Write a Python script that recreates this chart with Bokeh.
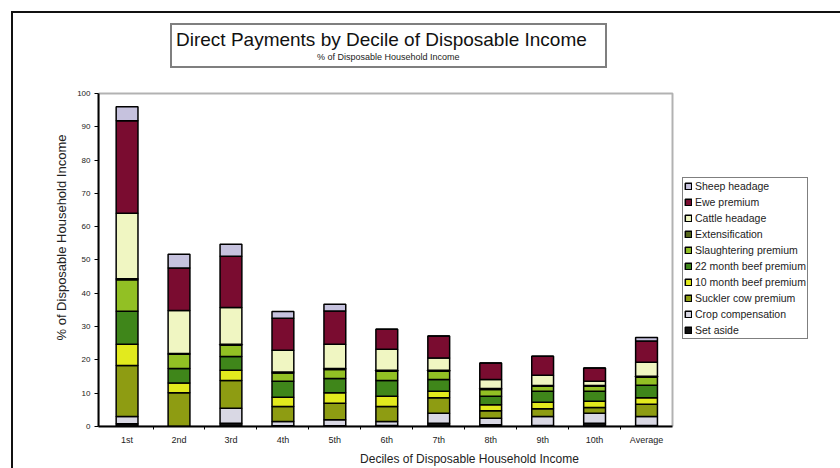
from bokeh.plotting import figure
from bokeh.layouts import column
from bokeh.models import (Range1d, FixedTicker, Legend, LegendItem, Title,
                          BoxAnnotation, ColumnDataSource)
from bokeh.embed import file_html
from bokeh.resources import INLINE

categories = ["1st", "2nd", "3rd", "4th", "5th", "6th", "7th", "8th", "9th", "10th", "Average"]

# series values, % of disposable household income (bottom of stack first)
set_aside            = [0.8, 0.0, 1.0, 0.2, 0.2, 0.3, 1.0, 0.5, 0.3, 1.0, 0.3]
crop_compensation    = [2.2, 0.0, 4.5, 1.3, 1.8, 1.2, 3.0, 2.0, 2.7, 3.0, 2.7]
suckler_cow_premium  = [15.3, 10.1, 8.3, 4.5, 5.0, 4.5, 4.6, 2.2, 2.3, 1.7, 3.7]
beef_10_month        = [6.4, 3.0, 3.1, 2.8, 3.1, 3.1, 2.0, 1.8, 2.0, 1.9, 1.9]
beef_22_month        = [9.9, 4.3, 4.1, 4.8, 4.3, 4.7, 3.5, 2.6, 3.3, 3.0, 3.8]
slaughtering_premium = [9.5, 4.3, 3.4, 2.5, 2.7, 2.8, 2.5, 2.0, 1.5, 1.5, 2.4]
extensification      = [0.3, 0.2, 0.3, 0.3, 0.3, 0.3, 0.3, 0.3, 0.2, 0.2, 0.3]
cattle_headage       = [19.6, 12.9, 11.0, 6.5, 7.3, 6.3, 3.7, 2.7, 3.1, 1.3, 4.2]
ewe_premium          = [27.8, 12.8, 15.4, 9.6, 10.0, 6.0, 6.6, 5.0, 5.7, 4.0, 6.4]
sheep_headage        = [4.2, 4.1, 3.6, 2.0, 2.0, 0.0, 0.0, 0.0, 0.0, 0.0, 1.0]

series_names = ["Set aside", "Crop compensation", "Suckler cow premium",
                "10 month beef premium", "22 month beef premium", "Slaughtering premium",
                "Extensification", "Cattle headage", "Ewe premium", "Sheep headage"]
series_values = [set_aside, crop_compensation, suckler_cow_premium, beef_10_month,
                 beef_22_month, slaughtering_premium, extensification, cattle_headage,
                 ewe_premium, sheep_headage]
colors = ["#111111", "#d9d8e4", "#8e9c12", "#e2ea1e", "#3f861a", "#92c024",
          "#56661a", "#f0f6c2", "#7a0c30", "#c6c2de"]

y_ticks = list(range(0, 101, 10))

title_text = "Direct Payments by Decile of Disposable Income"
subtitle_text = "% of Disposable Household Income"
y_title = "% of Disposable Household Income"
x_title = "Deciles of Disposable Household Income"

keys = ["s%d" % i for i in range(len(series_names))]
data = {"x": list(range(len(categories)))}
for k, v in zip(keys, series_values):
    data[k] = v
source = ColumnDataSource(data)

FONT = "Liberation Sans"
OFF = 13            # page offset of the canvas (11px margin + 2px border of the wrapper)
FRAME_LEFT = 98     # page x of the y axis
FRAME_BOTTOM = 426  # page y of the x axis

# The frame covers everything right of the y axis and above the x axis, so that the
# title box and the legend can be drawn inside it; the plotted area itself is
# x in [-0.55, 10.5], y in [0, 100].
p = figure(width=840 - OFF, height=468 - OFF, output_backend="svg", toolbar_location=None,
           x_range=Range1d(-0.55, 13.734), y_range=Range1d(0, 124.02))
p.title.visible = False
p.min_border = 0
p.min_border_left = FRAME_LEFT - OFF
p.min_border_bottom = 468 - FRAME_BOTTOM
p.background_fill_color = "white"
p.border_fill_color = "white"
p.outline_line_color = None
p.xgrid.visible = False
p.ygrid.visible = False

renderers = p.vbar_stack(keys, x="x", width=0.42, color=colors, line_color="black",
                         line_width=1.5, source=source)

# plot-area border
p.add_layout(BoxAnnotation(left=-0.55, right=len(categories) - 0.5, bottom=0, top=100,
                           fill_color=None, line_color="black", line_width=2))

# x axis
p.xaxis.bounds = (-0.55, len(categories) - 0.5)
p.xaxis.ticker = FixedTicker(ticks=list(range(len(categories))),
                             minor_ticks=[i + 0.5 for i in range(len(categories) - 1)])
p.xaxis.major_label_overrides = {i: c for i, c in enumerate(categories)}
p.xaxis.major_tick_line_color = None
p.xaxis.major_tick_out = 0
p.xaxis.major_tick_in = 0
p.xaxis.minor_tick_line_color = "black"
p.xaxis.minor_tick_out = 3
p.xaxis.minor_tick_in = 0
p.xaxis.axis_line_width = 2
p.xaxis.major_label_text_font = FONT
p.xaxis.major_label_text_font_size = "9px"
p.xaxis.major_label_text_color = "#222222"
p.xaxis.major_label_standoff = 5
p.xaxis.axis_label = x_title
p.xaxis.axis_label_text_font = FONT
p.xaxis.axis_label_text_font_size = "12px"
p.xaxis.axis_label_text_font_style = "normal"
p.xaxis.axis_label_text_color = "#222222"
p.xaxis.axis_label_standoff = 4

# y axis
p.yaxis.bounds = (0, 100)
p.yaxis.ticker = FixedTicker(ticks=y_ticks)
p.yaxis.minor_tick_line_color = None
p.yaxis.major_tick_out = 4
p.yaxis.major_tick_in = 0
p.yaxis.axis_line_width = 2
p.yaxis.major_label_text_font = FONT
p.yaxis.major_label_text_font_size = "8px"
p.yaxis.major_label_text_color = "#222222"
p.yaxis.major_label_standoff = 4

# y axis title, placed above the plot-area centre like the original
p.add_layout(Title(text=y_title, align="left", offset=86, standoff=11,
                   text_font=FONT, text_font_size="13px", text_font_style="normal",
                   text_color="#222222"), "left")

# boxed chart title: a legend whose title is the chart title and whose single
# (glyph-less) entry is the subtitle; location = (x from frame left, y up from frame bottom)
dummy = p.scatter(x=[], y=[], size=1, fill_alpha=0, line_alpha=0)
title_box = Legend(items=[LegendItem(label=subtitle_text, renderers=[dummy])],
                   title=title_text, title_text_font=FONT, title_text_font_size="19px",
                   title_text_font_style="normal", title_text_color="#111111",
                   title_standoff=1,
                   label_text_font=FONT, label_text_font_size="9px",
                   label_text_color="#222222",
                   glyph_width=136, glyph_height=1, label_standoff=5, label_width=284,
                   label_height=10, padding=4, margin=0,
                   location=(170 - FRAME_LEFT, FRAME_BOTTOM - 68),
                   border_line_color="black", border_line_width=2,
                   background_fill_color="white", background_fill_alpha=1.0)
p.add_layout(title_box, "center")

# series legend (top entry = top of stack)
items = [LegendItem(label=n, renderers=[r]) for n, r in zip(series_names, renderers)][::-1]
legend = Legend(items=items, location=(682 - FRAME_LEFT, FRAME_BOTTOM - 339),
                orientation="vertical",
                label_text_font=FONT, label_text_font_size="10.5px",
                label_text_color="#222222",
                glyph_width=8, glyph_height=8, label_height=14, label_standoff=3,
                spacing=2, padding=1, margin=0,
                border_line_color="black", border_line_width=1.5,
                background_fill_color="white", background_fill_alpha=1.0)
p.add_layout(legend, "center")

page = column(p, styles={"margin-left": "11px", "margin-top": "11px",
                         "border-left": "2px solid #111111",
                         "border-top": "2px solid #111111"})

open("out.html", "w").write(file_html(page, INLINE))
